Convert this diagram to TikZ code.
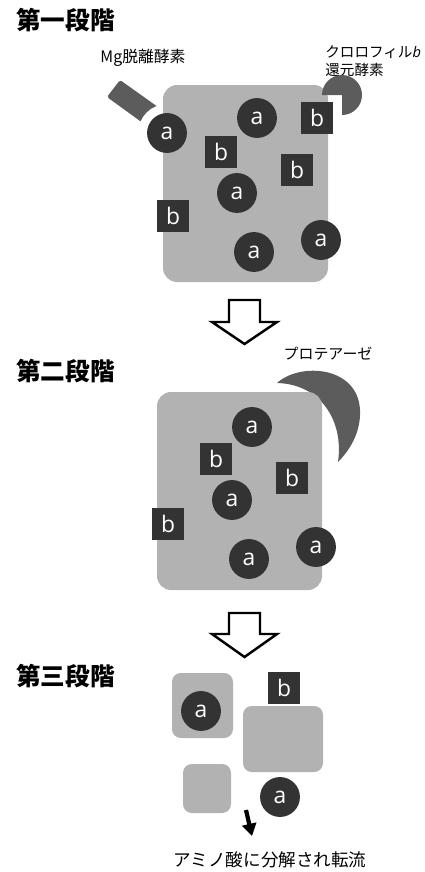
\documentclass[tikz,border=0pt]{standalone}
\usepackage{fontspec}
\setmainfont{Open Sans}
\newfontfamily\jp{Noto Sans CJK JP}
\usetikzlibrary{arrows.meta}
\definecolor{cellgray}{HTML}{B2B2B2}
\definecolor{moldark}{HTML}{333333}
\definecolor{enzgray}{HTML}{5C5C5C}

\begin{document}
\begin{tikzpicture}[x=0.02cm,y=-0.02cm,
    cell/.style={fill=cellgray,rounded corners=8pt},
    smallcell/.style={fill=cellgray,rounded corners=5pt},
    chla/.style={circle,fill=moldark,text=white,minimum size=22.7pt,inner sep=0pt,font=\fontsize{13pt}{13pt}\selectfont},
    chlb/.style={rectangle,fill=moldark,text=white,minimum size=18pt,inner sep=0pt,font=\fontsize{13pt}{13pt}\selectfont},
    enzyme/.style={fill=enzgray},
    stage/.style={anchor=west,inner sep=0pt,font=\jp\bfseries\fontsize{14pt}{16pt}\selectfont},
    label/.style={font=\jp\fontsize{9pt}{11pt}\selectfont},
    hollow/.style={draw=black,fill=white,line width=1.4pt,miter limit=10}]
    \useasboundingbox (0,0) rectangle (425,872);

    % stage 1
    \node[stage] (t_1) at (16,20) {第一段階};
    \node[label] (mg) at (143,58) {Mg脱離酵素};
    \node[label,anchor=west,align=left,inner sep=0pt,font=\jp\fontsize{8.3pt}{10.5pt}\selectfont] (cbr) at (325,61)
        {クロロフィル{\normalfont\itshape b}\\還元酵素};
    \fill[cell] (163,85) rectangle (328,282);
    \node[chla] (a_1) at (167,133) {a};
    \node[chla] (a_2) at (257,118) {a};
    \node[chla] (a_3) at (237,193) {a};
    \node[chla] (a_4) at (254,252) {a};
    \node[chla] (a_5) at (321,240) {a};
    \node[chlb] (b_1) at (317,118) {b};
    \node[chlb] (b_2) at (221,152) {b};
    \node[chlb] (b_3) at (297,170) {b};
    \node[chlb] (b_4) at (173,216) {b};
    \begin{scope}[even odd rule]
        \clip (0,0) rectangle (425,872) (a_1.center) circle (29);
        \fill[enzyme,rounded corners=1pt] (107,97) -- (120,80) -- (165.5,112.4) -- (153,130.4) -- cycle;
    \end{scope}
    \fill[enzyme] (342,95) -- +(180:20) arc[start angle=180,end angle=450,radius=20] -- cycle;

    \draw[hollow] (229,300) -- (260,300) -- (260,322) -- (277,322) -- (244.5,344) -- (212,322) -- (229,322) -- cycle;

    % stage 2
    \node[stage] (t_2) at (16,371) {第二段階};
    \node[label,font=\jp\fontsize{8.5pt}{10pt}\selectfont] (prot) at (328,354) {プロテアーゼ};
    \fill[enzyme] (277,383) .. controls (300,362) and (358,366) .. (360,410)
        .. controls (361,432) and (350,450) .. (338,462)
        .. controls (344,420) and (320,384) .. cycle;
    \fill[cell] (157,392) rectangle (322,590);
    \node[chla] (a_6) at (252,427) {a};
    \node[chla] (a_7) at (232,500) {a};
    \node[chla] (a_8) at (249,559) {a};
    \node[chla] (a_9) at (316,547) {a};
    \node[chlb] (b_5) at (216,459) {b};
    \node[chlb] (b_6) at (292,478) {b};
    \node[chlb] (b_7) at (168,524) {b};

    \draw[hollow] (229,613) -- (260,613) -- (260,634) -- (277,634) -- (244.5,657) -- (212,634) -- (229,634) -- cycle;

    % stage 3
    \node[stage] (t_3) at (16,676) {第三段階};
    \fill[smallcell] (172,673) rectangle (233,738);
    \fill[smallcell] (243,706) rectangle (323,772);
    \fill[smallcell] (183,764) rectangle (231,813);
    \node[chla] (a_10) at (201,711) {a};
    \node[chla] (a_11) at (280,797) {a};
    \node[chlb] (b_8) at (284,688) {b};
    \coordinate (flow_s) at (246,810);
    \coordinate (flow_e) at (252,836);
    \draw[line width=2.4pt,-{Triangle[length=7pt,width=8pt]}] (flow_s) -- (flow_e);
    \node[label,font=\jp\fontsize{10pt}{12pt}\selectfont] (amino) at (270,860) {アミノ酸に分解され転流};
\end{tikzpicture}
\end{document}
